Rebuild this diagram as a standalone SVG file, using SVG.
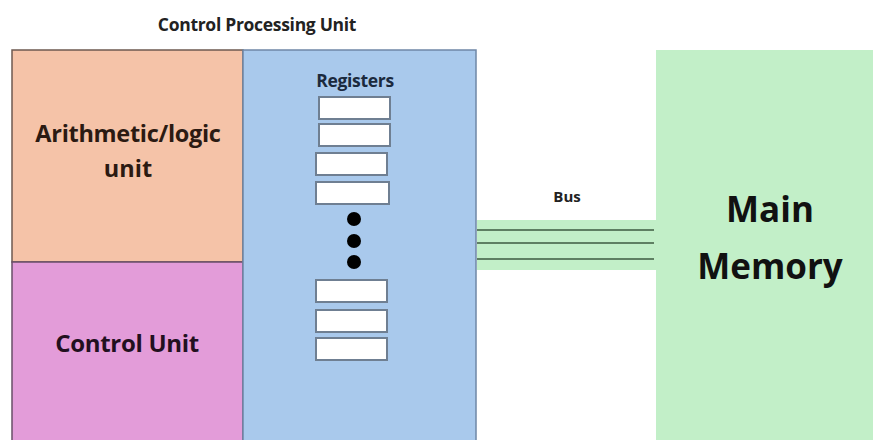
<svg xmlns="http://www.w3.org/2000/svg" width="873" height="440" viewBox="0 0 873 440">
  <style>
    text { font-family: "Open Sans", "Noto Sans", "DejaVu Sans", sans-serif; font-weight: bold; text-anchor: middle; }
    .reg { fill: #ffffff; stroke: #6f7f92; stroke-width: 2; }
    .wire { stroke: #3c5a40; stroke-width: 1.6; }
    .dot { fill: #000000; }
  </style>
  <rect width="873" height="440" fill="#ffffff"/>

  <text x="257" y="31" font-size="17.5" fill="#222222" letter-spacing="-0.3">Control Processing Unit</text>

  <g id="alu">
    <rect x="12" y="50" width="231" height="212" fill="#f5c3a8" stroke="#6e5a50" stroke-width="1.5"/>
    <text x="128" y="142" font-size="23.5" fill="#2b1a12" letter-spacing="-0.3">Arithmetic/logic</text>
    <text x="128" y="177" font-size="23.5" fill="#2b1a12">unit</text>
  </g>

  <g id="control-unit">
    <rect x="12" y="262" width="231" height="182" fill="#e39cd9" stroke="#6a4f68" stroke-width="1.5"/>
    <text x="127" y="352" font-size="24" fill="#22101f" letter-spacing="-0.3">Control Unit</text>
  </g>

  <g id="registers">
    <rect x="243" y="50" width="233" height="394" fill="#a9c9ec" stroke="#6f87a6" stroke-width="1.5"/>
    <text x="355" y="87" font-size="17.5" fill="#1b2a3e" letter-spacing="-0.3">Registers</text>
    <rect class="reg" x="319" y="97" width="71" height="22"/>
    <rect class="reg" x="319" y="124" width="71" height="22"/>
    <rect class="reg" x="316" y="153" width="71" height="22"/>
    <rect class="reg" x="316" y="182" width="73" height="22"/>
    <circle class="dot" cx="354" cy="219" r="7"/>
    <circle class="dot" cx="354" cy="241" r="7"/>
    <circle class="dot" cx="354" cy="262" r="7"/>
    <rect class="reg" x="316" y="280" width="71" height="22"/>
    <rect class="reg" x="316" y="310" width="71" height="22"/>
    <rect class="reg" x="316" y="338" width="71" height="22"/>
  </g>

  <g id="main-memory">
    <rect x="656" y="50" width="220" height="394" fill="#c2efc8"/>
    <text x="770" y="222" font-size="35" fill="#111111">Main</text>
    <text x="770" y="279" font-size="35" fill="#111111">Memory</text>
  </g>

  <g id="connectors">
    <rect x="477" y="220" width="179" height="50" fill="#c2efc8"/>
    <line class="wire" x1="477" y1="230" x2="654" y2="230"/>
    <line class="wire" x1="477" y1="243" x2="654" y2="243"/>
    <line class="wire" x1="477" y1="259" x2="654" y2="259"/>
    <text x="567" y="202" font-size="15" fill="#222222">Bus</text>
  </g>
</svg>
